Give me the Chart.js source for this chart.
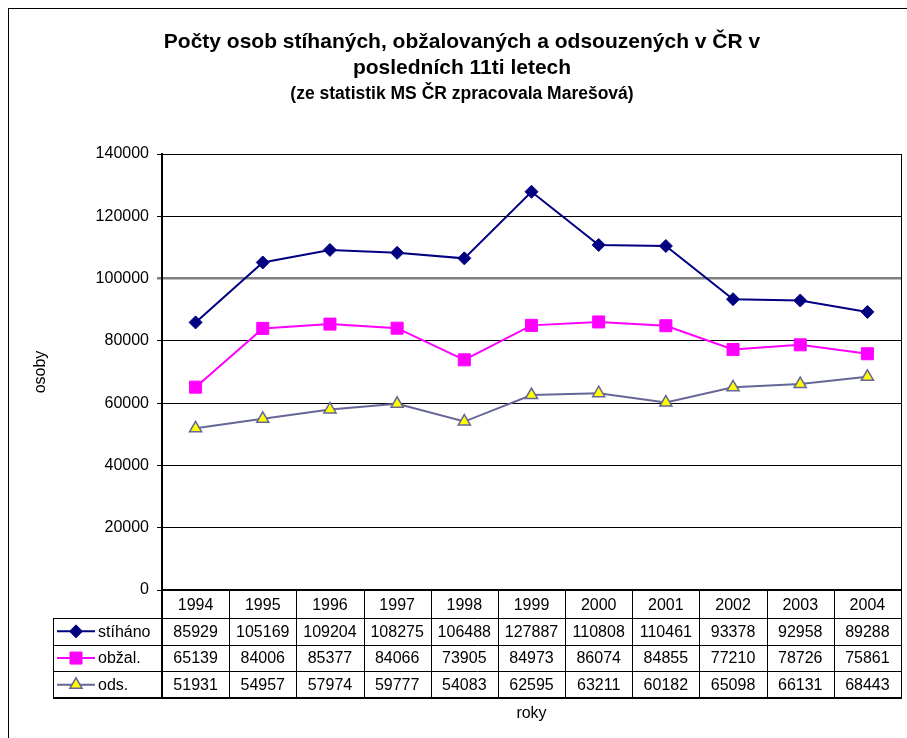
<!DOCTYPE html>
<html><head><meta charset="utf-8">
<script src="https://cdn.jsdelivr.net/npm/chart.js@4/dist/chart.umd.min.js"></script>
<style>
html,body{margin:0;padding:0;background:#fff;overflow:hidden;width:907px;height:738px}
#box{position:absolute;left:8px;top:8px;width:906px;height:740px;border:1px solid #000;background:#fff}
canvas{display:block}
</style></head><body>
<div id="box"><canvas id="c" width="906" height="740"></canvas></div>
<script>
const years = ['1994','1995','1996','1997','1998','1999','2000','2001','2002','2003','2004'];
const stihano = [85929,105169,109204,108275,106488,127887,110808,110461,93378,92958,89288];
const obzal = [65139,84006,85377,84066,73905,84973,86074,84855,77210,78726,75861];
const ods = [51931,54957,57974,59777,54083,62595,63211,60182,65098,66131,68443];
const seriesNames = ['stíháno','obžal.','ods.'];
const yMin = 0, yMax = 140000, yStep = 20000;
const titleLines = ['Počty osob stíhaných, obžalovaných a odsouzených v ČR v','posledních 11ti letech'];
const subtitleText = '(ze statistik MS ČR zpracovala Marešová)';
const yTitle = 'osoby', xTitle = 'roky';

const FONT = "'Liberation Sans', Arial, sans-serif";
Chart.defaults.font.family = FONT;
Chart.defaults.color = '#000';

function drawMarker(ctx, style, r, x, y, fill, stroke, bw){
  ctx.save();
  ctx.beginPath();
  if(style==='rectRot'){ctx.moveTo(x-r,y);ctx.lineTo(x,y-r);ctx.lineTo(x+r,y);ctx.lineTo(x,y+r);ctx.closePath();}
  else if(style==='rect'){const s=Math.SQRT1_2*r;ctx.rect(x-s,y-s,2*s,2*s);}
  else if(style==='triangle'){ctx.moveTo(x,y-r);ctx.lineTo(x+r*Math.sin(2*Math.PI/3),y+r/2);ctx.lineTo(x-r*Math.sin(2*Math.PI/3),y+r/2);ctx.closePath();}
  ctx.fillStyle=fill;ctx.fill();
  ctx.lineWidth=bw;ctx.strokeStyle=stroke;ctx.stroke();
  ctx.restore();
}

const tablePlugin = {
  id:'dataTable',
  beforeDatasetsDraw(chart){
    const {ctx, chartArea:a} = chart;
    ctx.save();
    ctx.strokeStyle='#000';ctx.lineWidth=1;
    ctx.beginPath();ctx.moveTo(a.right+0.5,a.top);ctx.lineTo(a.right+0.5,a.bottom);ctx.stroke();
    ctx.restore();
  },
  afterDraw(chart){
    const {ctx, chartArea:a, scales:{x}} = chart;
    const n = years.length, cw = (a.right-a.left)/n;
    const headerH = 28, rowH = 26.7, leftX = 44;
    const rowTop = a.bottom + headerH;
    const tableBottom = rowTop + rowH*3;
    ctx.save();
    ctx.strokeStyle='#000';ctx.lineWidth=1;
    ctx.beginPath();
    for(let i=1;i<=n;i++){const px=Math.round(a.left+i*cw)+0.5;ctx.moveTo(px,a.bottom);ctx.lineTo(px,tableBottom);}
    for(let r=0;r<3;r++){const py=Math.round(rowTop+r*rowH)+0.5;ctx.moveTo(leftX,py);ctx.lineTo(a.right+1,py);}
    ctx.moveTo(leftX+0.5,rowTop);ctx.lineTo(leftX+0.5,tableBottom);
    ctx.stroke();
    ctx.lineWidth=2;
    ctx.beginPath();
    ctx.moveTo(a.left,a.bottom);ctx.lineTo(a.left,tableBottom);
    ctx.moveTo(leftX,tableBottom);ctx.lineTo(a.right+1,tableBottom);
    ctx.stroke();
    const ds = chart.data.datasets;
    ctx.font = '16px '+FONT;
    ctx.textBaseline='middle';
    ds.forEach((d,r)=>{
      const cy = rowTop + rowH*(r+0.5);
      ctx.strokeStyle=d.borderColor;ctx.lineWidth=2;
      ctx.beginPath();ctx.moveTo(48,cy);ctx.lineTo(86,cy);ctx.stroke();
      drawMarker(ctx,d.pointStyle,d.pointRadius,67,cy,d.pointBackgroundColor,d.pointBorderColor,d.pointBorderWidth);
      ctx.fillStyle='#000';ctx.textAlign='left';
      ctx.fillText(seriesNames[r],89,cy+1);
      ctx.textAlign='center';
      d.data.forEach((v,i)=>{ctx.fillText(String(v),x.getPixelForValue(i),cy+1);});
    });
    ctx.restore();
  }
};

new Chart(document.getElementById('c'),{
  type:'line',
  data:{labels:years,datasets:[
    {label:seriesNames[0],data:stihano,borderColor:'#000080',borderWidth:2,pointStyle:'rectRot',pointRadius:6.5,pointBackgroundColor:'#000080',pointBorderColor:'#000080',pointBorderWidth:1,tension:0},
    {label:seriesNames[1],data:obzal,borderColor:'#FF00FF',borderWidth:2,pointStyle:'rect',pointRadius:8.5,pointBackgroundColor:'#FF00FF',pointBorderColor:'#FF00FF',pointBorderWidth:1,tension:0},
    {label:seriesNames[2],data:ods,borderColor:'#666699',borderWidth:2,pointStyle:'triangle',pointRadius:7,pointBackgroundColor:'#FFFF00',pointBorderColor:'#666699',pointBorderWidth:1.5,tension:0}
  ]},
  options:{
    responsive:false,animation:false,
    layout:{padding:{left:14,right:14,top:0,bottom:0}},
    plugins:{
      legend:{display:false},tooltip:{enabled:false},
      title:{display:true,text:titleLines,font:{size:21,weight:'bold',lineHeight:1.25},padding:{top:20,bottom:2},color:'#000'},
      subtitle:{display:true,text:subtitleText,font:{size:17.5,weight:'bold',lineHeight:1.2},padding:{top:0,bottom:49.5},color:'#000'}
    },
    scales:{
      x:{
        offset:true,
        grid:{display:false},
        border:{display:true,color:'#000',width:2},
        ticks:{font:{size:16},color:'#000',padding:-2,maxRotation:0,autoSkip:false},
        title:{display:true,text:xTitle,font:{size:16},color:'#000',padding:{top:0,bottom:26}},
        afterFit(s){s.height=159;}
      },
      y:{
        min:yMin,max:yMax,
        ticks:{stepSize:yStep,font:{size:16},color:'#000',padding:8,callback:v=>String(v)},
        grid:{color:c=>c.tick&&c.tick.value===100000?'#808080':'#000',lineWidth:c=>c.tick&&c.tick.value===100000?2.5:1,tickLength:5,drawTicks:true},
        border:{display:true,color:'#000',width:2},
        title:{display:true,text:yTitle,font:{size:16},color:'#000',padding:{top:8,bottom:0}},
        afterFit(s){s.width=139;}
      }
    }
  },
  plugins:[tablePlugin]
});
</script>
</body></html>
